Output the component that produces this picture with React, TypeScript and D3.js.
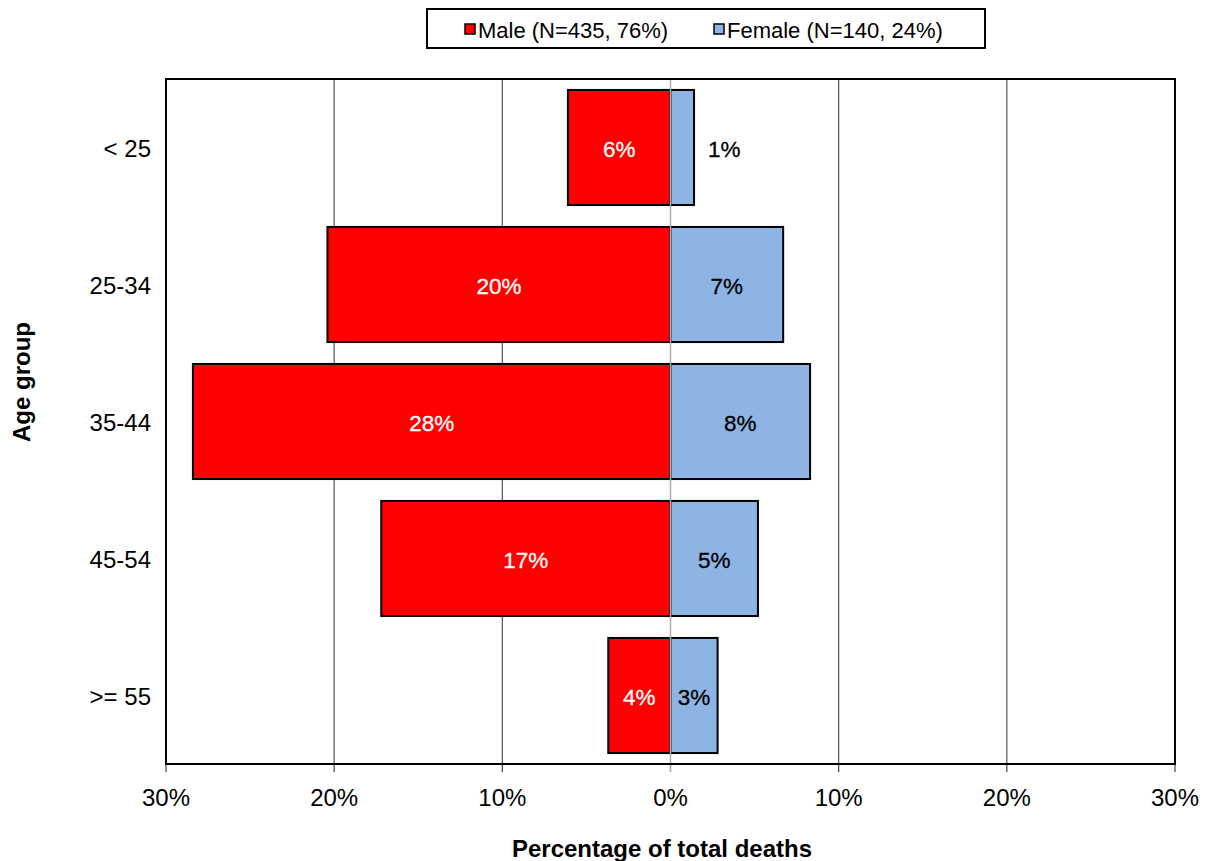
import React from "react";
import * as d3 from "d3";

const categories = ["< 25", "25-34", "35-44", "45-54", ">= 55"];
const maleValues = [6.1, 20.4, 28.4, 17.2, 3.7];
const femaleValues = [1.4, 6.7, 8.3, 5.2, 2.8];
const maleLabels = ["6%", "20%", "28%", "17%", "4%"];
const femaleLabels = ["1%", "7%", "8%", "5%", "3%"];
const tickValues = [-30, -20, -10, 0, 10, 20, 30];
const legendItems = ["Male (N=435, 76%)", "Female (N=140, 24%)"];

const W = 1207;
const H = 861;
const left = 166;
const right = 1175;
const top = 79;
const bottom = 764;
const RED = "#FF0000";
const BLUE = "#8EB4E3";
const FONT = "'Liberation Sans', Arial, sans-serif";

export default function App() {
  const x = d3.scaleLinear().domain([-30, 30]).range([left, right]);
  const y = d3
    .scaleBand<string>()
    .domain(categories)
    .range([top, bottom])
    .paddingInner(0.16)
    .paddingOuter(0.08);
  const bw = y.bandwidth();

  return (
    <svg
      width={W}
      height={H}
      style={{ position: "absolute", left: 0, top: 0, fontFamily: FONT }}
    >
      <rect x={0} y={0} width={W} height={H} fill="#fff" />
      {/* grid lines */}
      {tickValues
        .filter((t) => t !== 0 && Math.abs(t) !== 30)
        .map((t) => (
          <line
            key={"g" + t}
            x1={x(t)}
            x2={x(t)}
            y1={top}
            y2={bottom}
            stroke="#555"
            strokeWidth={1.2}
          />
        ))}
      {/* ticks */}
      {tickValues.map((t) => (
        <line
          key={"t" + t}
          x1={x(t)}
          x2={x(t)}
          y1={bottom}
          y2={bottom + 8}
          stroke={t === 0 ? "#999" : "#444"}
          strokeWidth={1.2}
        />
      ))}
      {/* bars */}
      {categories.map((c, i) => {
        const y0 = y(c)!;
        return (
          <g key={c}>
            <rect
              x={x(-maleValues[i])}
              y={y0}
              width={x(0) - x(-maleValues[i])}
              height={bw}
              fill={RED}
              stroke="#000"
              strokeWidth={2}
            />
            <rect
              x={x(0)}
              y={y0}
              width={x(femaleValues[i]) - x(0)}
              height={bw}
              fill={BLUE}
              stroke="#000"
              strokeWidth={2}
            />
          </g>
        );
      })}
      {/* zero line */}
      <line
        x1={x(0)}
        x2={x(0)}
        y1={top}
        y2={bottom + 8}
        stroke="#aaa"
        strokeWidth={1.5}
      />
      {/* bar labels */}
      {categories.map((c, i) => {
        const cy = y(c)! + bw / 2 + 1;
        const inside = femaleValues[i] >= 2;
        return (
          <g key={"l" + c} fontSize={22.5}>
            <text
              x={(x(-maleValues[i]) + x(0)) / 2}
              y={cy}
              dy="0.36em"
              textAnchor="middle"
              fill="#fff"
              stroke="#fff"
              strokeWidth={0.3}
            >
              {maleLabels[i]}
            </text>
            <text
              x={inside ? (x(0) + x(femaleValues[i])) / 2 : x(femaleValues[i]) + 14}
              y={cy}
              dy="0.36em"
              textAnchor={inside ? "middle" : "start"}
              fill="#000"
              stroke="#000"
              strokeWidth={0.3}
            >
              {femaleLabels[i]}
            </text>
          </g>
        );
      })}
      {/* plot border */}
      <rect
        x={left}
        y={top}
        width={right - left}
        height={bottom - top}
        fill="none"
        stroke="#000"
        strokeWidth={2}
      />
      {/* category labels */}
      {categories.map((c) => (
        <text
          key={"c" + c}
          x={151}
          y={y(c)! + bw / 2 + 1}
          dy="0.36em"
          textAnchor="end"
          fontSize={24}
          fill="#000"
        >
          {c}
        </text>
      ))}
      {/* tick labels */}
      {tickValues.map((t) => (
        <text
          key={"tl" + t}
          x={x(t)}
          y={806}
          textAnchor="middle"
          fontSize={24}
          fill="#000"
        >
          {Math.abs(t) + "%"}
        </text>
      ))}
      {/* axis titles */}
      <text
        x={662}
        y={857}
        textAnchor="middle"
        fontSize={24}
        fontWeight="bold"
        fill="#000"
      >
        Percentage of total deaths
      </text>
      <text
        transform={`translate(30, ${382}) rotate(-90)`}
        textAnchor="middle"
        fontSize={24}
        fontWeight="bold"
        fill="#000"
      >
        Age group
      </text>
      {/* legend */}
      <rect x={427} y={9} width={558} height={39} fill="#fff" stroke="#000" strokeWidth={2} />
      <rect x={465} y={24} width={10} height={10} fill={RED} stroke="#000" strokeWidth={1.5} />
      <text x={478} y={30} dy="0.36em" fontSize={22} fill="#000">
        {legendItems[0]}
      </text>
      <rect x={714} y={24} width={10} height={10} fill={BLUE} stroke="#000" strokeWidth={1.5} />
      <text x={727} y={30} dy="0.36em" fontSize={22} fill="#000">
        {legendItems[1]}
      </text>
    </svg>
  );
}
